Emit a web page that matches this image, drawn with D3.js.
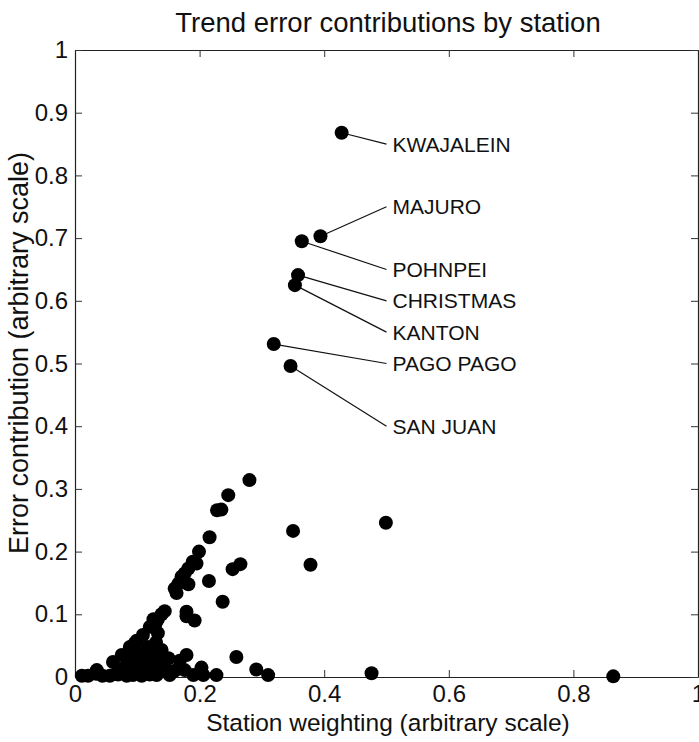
<!DOCTYPE html>
<html>
<head>
<meta charset="utf-8">
<script src="https://cdn.jsdelivr.net/npm/d3@7"></script>
<style>
  body { margin: 0; background: #fff; }
  text { font-family: "Liberation Sans", Arial, sans-serif; fill: #111; }
</style>
</head>
<body>
<svg id="chart"></svg>
<script>
// station weighting (x) and error contribution (y), unlabelled stations
const weightX = [
  0.280, 0.246, 0.235, 0.228, 0.216, 0.199, 0.195, 0.189, 0.182, 0.176, 0.171, 0.166, 0.160, 0.163, 0.182, 0.215,
  0.350, 0.499, 0.2655, 0.253, 0.378, 0.237,
  0.179, 0.179, 0.192,
  0.144, 0.139, 0.133, 0.129, 0.133,
  0.109, 0.096, 0.117, 0.104, 0.139,
  0.136, 0.144, 0.152, 0.179, 0.168, 0.176, 0.190, 0.203, 0.206, 0.227,
  0.259, 0.291, 0.310, 0.476, 0.864,
  0.011, 0.021, 0.034, 0.044, 0.056, 0.069, 0.083, 0.093, 0.107, 0.120, 0.131,
  0.035, 0.061, 0.075, 0.088, 0.099, 0.120, 0.126,
  0.082, 0.095, 0.105, 0.112, 0.090, 0.070, 0.115, 0.125, 0.130, 0.098, 0.086, 0.150, 0.160, 0.140, 0.125
];
const errorY = [
  0.314, 0.290, 0.267, 0.266, 0.223, 0.200, 0.181, 0.184, 0.173, 0.165, 0.160, 0.149, 0.141, 0.134, 0.148, 0.153,
  0.233, 0.246, 0.180, 0.172, 0.179, 0.120,
  0.104, 0.097, 0.090,
  0.105, 0.100, 0.092, 0.084, 0.070,
  0.067, 0.054, 0.048, 0.038, 0.043,
  0.024, 0.016, 0.003, 0.035, 0.026, 0.011, 0.003, 0.015, 0.003, 0.003,
  0.032, 0.012, 0.003, 0.006, 0.001,
  0.002, 0.002, 0.005, 0.002, 0.002, 0.004, 0.002, 0.003, 0.002, 0.004, 0.003,
  0.011, 0.024, 0.035, 0.048, 0.058, 0.080, 0.092,
  0.018, 0.028, 0.020, 0.012, 0.010, 0.012, 0.030, 0.040, 0.055, 0.040, 0.030, 0.030, 0.010, 0.010, 0.020
];

// labelled stations
const stationNames = ["KWAJALEIN", "MAJURO", "POHNPEI", "CHRISTMAS", "KANTON", "PAGO PAGO", "SAN JUAN"];
const stationX = [0.428, 0.394, 0.364, 0.358, 0.353, 0.319, 0.346];
const stationY = [0.868, 0.703, 0.695, 0.641, 0.625, 0.531, 0.496];
const labelY = [0.85, 0.75, 0.65, 0.60, 0.55, 0.50, 0.40];
const labelX = 0.5;

const xTicks = [0, 0.2, 0.4, 0.6, 0.8, 1];
const yTicks = [0, 0.1, 0.2, 0.3, 0.4, 0.5, 0.6, 0.7, 0.8, 0.9, 1];

const width = 699, height = 742;
const margin = { top: 50, right: 1, bottom: 65, left: 75 };
const innerW = width - margin.left - margin.right;
const innerH = height - margin.top - margin.bottom;

const svg = d3.select("#chart").attr("width", width).attr("height", height);
const chart = svg.append("g").attr("transform", `translate(${margin.left}, ${margin.top})`);

const xscale = d3.scaleLinear().domain([0, 1]).range([0, innerW]);
const yscale = d3.scaleLinear().domain([0, 1]).range([innerH, 0]);

const fmt = d => d === 0 || d === 1 ? String(d) : d3.format(".1f")(d);

// MATLAB-style box with inward ticks on every side
const axes = [
  { ax: d3.axisBottom(xscale).tickValues(xTicks), t: `translate(0, ${innerH})`, labels: true, pad: 8 },
  { ax: d3.axisTop(xscale).tickValues(xTicks), t: `translate(0, 0)`, labels: false, pad: 8 },
  { ax: d3.axisLeft(yscale).tickValues(yTicks), t: `translate(0, 0)`, labels: true, pad: 7 },
  { ax: d3.axisRight(yscale).tickValues(yTicks), t: `translate(${innerW}, 0)`, labels: false, pad: 7 }
];
axes.forEach(a => {
  const g = chart.append("g").attr("transform", a.t)
    .call(a.ax.tickSizeInner(-7).tickSizeOuter(0).tickPadding(a.pad).tickFormat(a.labels ? fmt : ""));
  g.select(".domain").attr("stroke", "#222").attr("stroke-width", 1.2);
  g.selectAll(".tick line").attr("stroke", "#333");
  g.selectAll(".tick text").style("font-size", "24px").attr("fill", "#111");
});

const points = weightX.map((x, i) => ({ x: x, y: errorY[i] }));
const stations = stationNames.map((n, i) => ({ name: n, x: stationX[i], y: stationY[i], ly: labelY[i] }));

chart.selectAll("line.leader")
  .data(stations).join("line")
  .attr("class", "leader")
  .attr("x1", d => xscale(d.x))
  .attr("y1", d => yscale(d.y))
  .attr("x2", xscale(labelX))
  .attr("y2", d => yscale(d.ly))
  .attr("stroke", "#111")
  .attr("stroke-width", 1.2);

chart.selectAll("text.station")
  .data(stations).join("text")
  .attr("class", "station")
  .attr("x", xscale(labelX) + 6)
  .attr("y", d => yscale(d.ly))
  .attr("dy", "0.36em")
  .style("font-size", "21px")
  .text(d => d.name);

chart.selectAll("circle.dot")
  .data(points.concat(stations)).join("circle")
  .attr("class", "dot")
  .attr("cx", d => xscale(d.x))
  .attr("cy", d => yscale(d.y))
  .attr("r", 7)
  .attr("fill", "#000");

svg.append("text")
  .attr("x", 388)
  .attr("y", 32)
  .attr("text-anchor", "middle")
  .style("font-size", "27.5px")
  .text("Trend error contributions by station");

svg.append("text")
  .attr("x", 388)
  .attr("y", 731)
  .attr("text-anchor", "middle")
  .style("font-size", "24.5px")
  .text("Station weighting (arbitrary scale)");

svg.append("text")
  .attr("transform", "rotate(-90)")
  .attr("x", -353)
  .attr("y", 28)
  .attr("text-anchor", "middle")
  .style("font-size", "27px")
  .text("Error contribution (arbitrary scale)");
</script>
</body>
</html>
